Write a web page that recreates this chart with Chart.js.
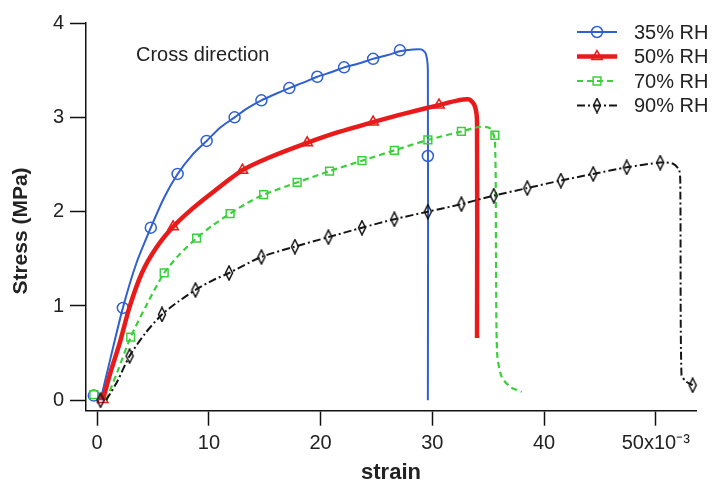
<!DOCTYPE html>
<html>
<head>
<meta charset="utf-8">
<script src="https://cdn.jsdelivr.net/npm/chart.js@4"></script>
<style>
  body { margin: 0; background: #fff; }
</style>
</head>
<body>
<canvas id="stressChart" width="712" height="484"></canvas>
<script>
// strain values are in units of 1e-3, stress in MPa
const seriesNames = ["35% RH", "50% RH", "70% RH", "90% RH"];

const rh35Curve = [[0.3,0],[1.2,0.45],[2.3,0.98],[3.5,1.45],[4.8,1.83],[6.0,2.15],[7.2,2.40],[8.5,2.6],
  [9.8,2.75],[11.0,2.89],[12.3,3.0],[13.5,3.1],[14.7,3.18],[16.0,3.25],[17.2,3.31],[18.5,3.37],[19.7,3.43],
  [21.0,3.48],[22.1,3.53],[23.4,3.57],[24.7,3.62],[26.0,3.66],[27.1,3.70],[28.3,3.72],[29.0,3.72],
  [29.4,3.68],[29.6,3.5],[29.6,0]];
const rh35Marks = [[-0.3,0.05],[2.3,0.98],[4.8,1.83],[7.2,2.40],[9.8,2.75],[12.3,3.0],[14.7,3.18],
  [17.2,3.31],[19.7,3.43],[22.1,3.53],[24.7,3.62],[27.1,3.71],[29.6,2.59]];

const rh50Curve = [[0.5,0],[1.2,0.3],[2.0,0.6],[2.9,0.99],[4.0,1.35],[5.3,1.62],[6.8,1.84],[8.5,2.03],
  [10.5,2.22],[13.0,2.44],[15.5,2.58],[18.8,2.73],[21.5,2.84],[24.7,2.95],[27.5,3.04],[30.6,3.13],
  [32.3,3.18],[33.3,3.19],[33.8,3.12],[34.0,2.95],[34.0,0.66]];
const rh50Marks = [[0.5,0.01],[6.8,1.84],[13.0,2.44],[18.8,2.73],[24.7,2.95],[30.6,3.13]];

const rh70Curve = [[0.8,0],[1.8,0.3],[3.0,0.67],[4.5,1.03],[6.0,1.35],[7.4,1.55],[8.9,1.72],[10.4,1.86],
  [11.9,1.98],[13.4,2.09],[14.9,2.18],[17.9,2.31],[20.8,2.43],[23.7,2.54],[26.6,2.65],[29.6,2.76],
  [32.6,2.85],[34.3,2.9],[35.2,2.88],[35.6,2.75],[35.7,1.5],[35.8,0.5],[36.2,0.25],[37.0,0.14],[38.0,0.09]];
const rh70Marks = [[-0.3,0.06],[3.0,0.67],[6.0,1.35],[8.9,1.72],[11.9,1.98],[14.9,2.18],[17.9,2.31],
  [20.8,2.43],[23.7,2.54],[26.6,2.65],[29.6,2.76],[32.6,2.85],[35.6,2.81]];

const rh90Curve = [[0.8,0],[1.8,0.2],[2.9,0.47],[4.3,0.71],[5.8,0.91],[7.3,1.05],[8.8,1.17],[10.3,1.27],
  [11.8,1.35],[14.7,1.52],[17.7,1.63],[20.7,1.73],[23.7,1.83],[26.6,1.92],[29.6,2.0],[32.6,2.08],
  [35.5,2.17],[38.5,2.25],[41.5,2.33],[44.4,2.40],[47.4,2.47],[50.4,2.52],[51.5,2.51],[52.1,2.44],
  [52.2,2.2],[52.3,0.27],[52.7,0.2],[53.3,0.16]];
const rh90Marks = [[0.3,0.0],[2.9,0.47],[5.8,0.91],[8.8,1.17],[11.8,1.35],[14.7,1.52],[17.7,1.63],
  [20.7,1.73],[23.7,1.83],[26.6,1.92],[29.6,2.0],[32.6,2.08],[35.5,2.17],[38.5,2.25],[41.5,2.33],
  [44.4,2.40],[47.4,2.47],[50.4,2.52],[53.3,0.16]];

const xTicks = [0, 10, 20, 30, 40, 50];
const xTickLabels = ["0", "10", "20", "30", "40", "50x10\u207B\u00B3"];
const yTicks = [0, 1, 2, 3, 4];
const noteText = "Cross direction";
const yTitle = "Stress (MPa)";

const FONT = "'Liberation Sans', Arial, sans-serif";
Chart.defaults.font.family = FONT;
Chart.defaults.color = "#222";

// narrow diamond marker like the original
function diamondMarker() {
  const c = document.createElement("canvas");
  c.width = 10; c.height = 16;
  const g = c.getContext("2d");
  g.strokeStyle = "#111";
  g.lineWidth = 1.5;
  g.beginPath();
  g.moveTo(5, 1); g.lineTo(8.5, 8); g.lineTo(5, 15); g.lineTo(1.5, 8); g.closePath();
  g.stroke();
  return c;
}

const styles = [
  { color: "#2f5fd0", width: 2, dash: [], marker: "circle", radius: 5.5 },
  { color: "#e81a1a", width: 4.5, dash: [], marker: "triangle", radius: 6 },
  { color: "#3ccf3c", width: 2.2, dash: [6, 4], marker: "rect", radius: 5.5 },
  { color: "#151515", width: 2, dash: [8, 3, 2, 3], marker: diamondMarker(), radius: 6 }
];

const curves = [rh35Curve, rh50Curve, rh70Curve, rh90Curve];
const marks = [rh35Marks, rh50Marks, rh70Marks, rh90Marks];
const toPts = arr => arr.map(p => ({ x: p[0], y: p[1] }));

const datasets = [];
// draw black first so blue ends on top
for (let i = 3; i >= 0; i--) {
  const s = styles[i];
  datasets.push({
    label: seriesNames[i],
    data: toPts(curves[i]),
    showLine: true,
    borderColor: s.color,
    borderWidth: s.width,
    borderDash: s.dash,
    pointRadius: 0,
    tension: 0.25,
    fill: false
  });
  datasets.push({
    label: seriesNames[i] + " markers",
    data: toPts(marks[i]),
    showLine: false,
    pointStyle: s.marker,
    pointRadius: s.radius,
    pointBorderColor: s.color,
    pointBorderWidth: 1.5,
    pointBackgroundColor: "rgba(0,0,0,0)",
    clip: false
  });
}

const legendAndNote = {
  id: "legendAndNote",
  afterDatasetsDraw(chart) {
    const ctx = chart.ctx;
    ctx.save();
    ctx.font = "20px " + FONT;
    ctx.fillStyle = "#222";
    ctx.textBaseline = "middle";
    ctx.textAlign = "left";
    ctx.fillText(noteText, 136, 55);

    seriesNames.forEach((name, i) => {
      const s = styles[i];
      const y = 32 + i * 24.5;
      ctx.save();
      ctx.strokeStyle = s.color;
      ctx.lineWidth = s.width;
      ctx.setLineDash(s.dash);
      ctx.beginPath();
      ctx.moveTo(577, y);
      ctx.lineTo(617, y);
      ctx.stroke();
      ctx.restore();
      ctx.save();
      ctx.strokeStyle = s.color;
      ctx.fillStyle = "rgba(0,0,0,0)";
      ctx.lineWidth = 1.5;
      Chart.helpers.drawPoint(ctx, { pointStyle: s.marker, radius: s.radius, borderWidth: 1.5 }, 597, y);
      ctx.restore();
      ctx.fillStyle = "#222";
      ctx.fillText(name, 634, y + 1);
    });

    // y axis title, placed like the original (a bit below the plot centre)
    ctx.save();
    ctx.translate(21, 231);
    ctx.rotate(-Math.PI / 2);
    ctx.textAlign = "center";
    ctx.font = "bold 21px " + FONT;
    ctx.fillText(yTitle, 0, 0);
    ctx.restore();
    ctx.restore();
  }
};

new Chart(document.getElementById("stressChart"), {
  type: "scatter",
  data: { datasets: datasets },
  options: {
    responsive: false,
    animation: false,
    layout: { padding: { left: 0, top: 23, right: 16, bottom: 0 } },
    plugins: { legend: { display: false }, tooltip: { enabled: false } },
    scales: {
      x: {
        type: "linear",
        min: -1.0,
        max: 53.6,
        afterBuildTicks: scale => { scale.ticks = xTicks.map(v => ({ value: v })); },
        afterFit: scale => { scale.height = 73.3; },
        ticks: {
          font: { size: 20 },
          color: "#222",
          padding: 6,
          maxRotation: 0,
          callback: (v) => xTickLabels[xTicks.indexOf(v)]
        },
        grid: { drawOnChartArea: false, drawTicks: true, tickLength: 15, tickWidth: 1.5, tickColor: "#111" },
        border: { display: true, color: "#111", width: 1.5 },
        title: { display: true, text: "strain", font: { size: 22, weight: "bold", lineHeight: 1.0 }, color: "#222", padding: 0 }
      },
      y: {
        type: "linear",
        min: -0.11,
        max: 4,
        afterBuildTicks: scale => { scale.ticks = yTicks.map(v => ({ value: v })); },
        afterFit: scale => { scale.width = 86; },
        ticks: { font: { size: 20 }, color: "#222", padding: 6 },
        grid: { drawOnChartArea: false, drawTicks: true, tickLength: 16, tickWidth: 1.5, tickColor: "#111" },
        border: { display: true, color: "#111", width: 1.5 }
      }
    }
  },
  plugins: [legendAndNote]
});
</script>
</body>
</html>
